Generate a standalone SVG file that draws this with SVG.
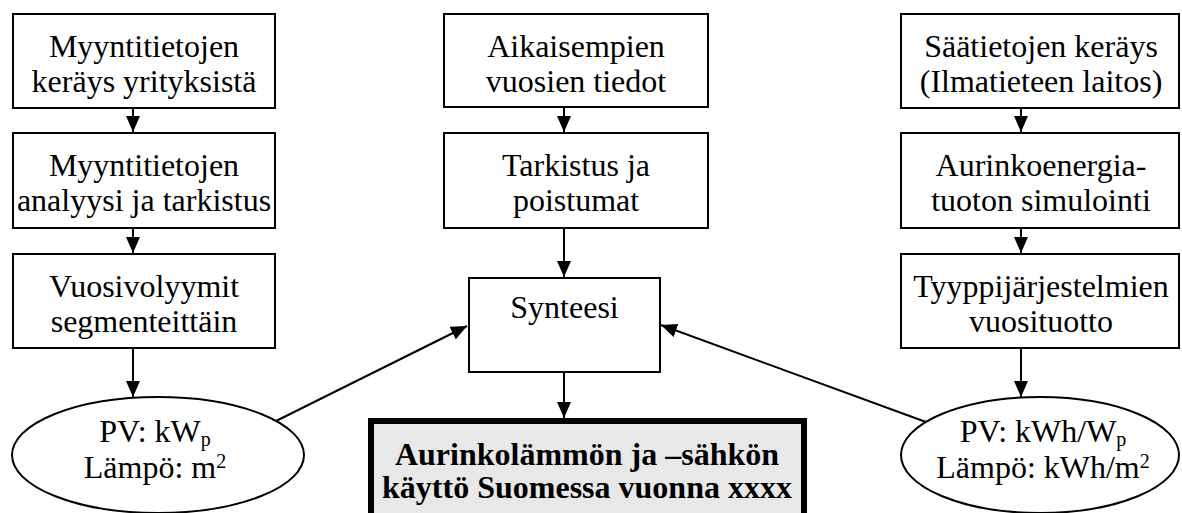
<svg xmlns="http://www.w3.org/2000/svg" width="1182" height="513" viewBox="0 0 1182 513">
<style>
.box{fill:#fff;stroke:#000;stroke-width:2}
.t{font-family:"Liberation Serif","Times New Roman",serif;font-size:32px;fill:#000;text-anchor:middle}
.b{font-weight:bold}
.s{font-size:20px}
.c{fill:none;stroke:#000;stroke-width:2}
</style>
<defs>
<marker id="ah" viewBox="0 0 16 14" refX="16" refY="7" markerWidth="16" markerHeight="14" markerUnits="userSpaceOnUse" orient="auto">
<path d="M0,0 L16,7 L0,14 z" fill="#000"/>
</marker>
</defs>
<g id="connectors">
<path class="c" d="M133,109 V132" marker-end="url(#ah)"/>
<path class="c" d="M133,229 V253" marker-end="url(#ah)"/>
<path class="c" d="M133,349 V397" marker-end="url(#ah)"/>
<path class="c" d="M564,108 V132" marker-end="url(#ah)"/>
<path class="c" d="M564,229 V277" marker-end="url(#ah)"/>
<path class="c" d="M564,373 V418" marker-end="url(#ah)"/>
<path class="c" d="M1021,109 V132" marker-end="url(#ah)"/>
<path class="c" d="M1021,229 V253" marker-end="url(#ah)"/>
<path class="c" d="M1021,349 V397" marker-end="url(#ah)"/>
<path class="c" d="M276,421 L467,326" marker-end="url(#ah)"/>
<path class="c" d="M926,422 L661,325" marker-end="url(#ah)"/>
</g>
<g id="n1"><rect class="box" x="13" y="14" width="262" height="94"/>
<text class="t" x="144" y="57">Myyntitietojen</text><text class="t" x="144" y="92">keräys yrityksistä</text></g>
<g id="n2"><rect class="box" x="13" y="133" width="262" height="95"/>
<text class="t" x="144" y="176">Myyntitietojen</text><text class="t" x="144" y="211">analyysi ja tarkistus</text></g>
<g id="n3"><rect class="box" x="13" y="254" width="262" height="94"/>
<text class="t" x="144" y="297">Vuosivolyymit</text><text class="t" x="144" y="332">segmenteittäin</text></g>
<g id="n4"><ellipse class="box" cx="158" cy="455" rx="146" ry="58"/>
<text class="t" x="155" y="442">PV: kW<tspan class="s" dy="4">p</tspan></text>
<text class="t" x="155" y="478">Lämpö: m<tspan class="s" dy="-10">2</tspan></text></g>
<g id="n5"><rect class="box" x="444" y="14" width="264" height="93"/>
<text class="t" x="576" y="57">Aikaisempien</text><text class="t" x="576" y="92">vuosien tiedot</text></g>
<g id="n6"><rect class="box" x="444" y="133" width="264" height="95"/>
<text class="t" x="576" y="176">Tarkistus ja</text><text class="t" x="576" y="211">poistumat</text></g>
<g id="n7"><rect class="box" x="469" y="278" width="191" height="94"/>
<text class="t" x="564.5" y="318">Synteesi</text></g>
<g id="n8"><rect x="371" y="421" width="433" height="110" fill="#e8e8e8" stroke="#000" stroke-width="6"/>
<text class="t b" x="587" y="465">Aurinkolämmön ja –sähkön</text>
<text class="t b" x="587" y="498">käyttö Suomessa vuonna xxxx</text></g>
<g id="n9"><rect class="box" x="901" y="14" width="278" height="94"/>
<text class="t" x="1041" y="57">Säätietojen keräys</text><text class="t" x="1041" y="92">(Ilmatieteen laitos)</text></g>
<g id="n10"><rect class="box" x="901" y="133" width="278" height="95"/>
<text class="t" x="1041" y="176">Aurinkoenergia-</text><text class="t" x="1041" y="211">tuoton simulointi</text></g>
<g id="n11"><rect class="box" x="901" y="254" width="278" height="94"/>
<text class="t" x="1041" y="297">Tyyppijärjestelmien</text><text class="t" x="1041" y="332">vuosituotto</text></g>
<g id="n12"><ellipse class="box" cx="1040" cy="455" rx="139" ry="58"/>
<text class="t" x="1043" y="442">PV: kWh/W<tspan class="s" dy="4">p</tspan></text>
<text class="t" x="1043" y="478">Lämpö: kWh/m<tspan class="s" dy="-10">2</tspan></text></g>
</svg>
